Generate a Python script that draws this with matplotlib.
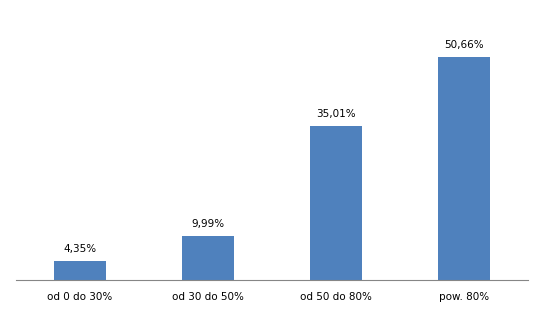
import matplotlib
matplotlib.use("Agg")
import matplotlib.pyplot as plt

categories = ["od 0 do 30%", "od 30 do 50%", "od 50 do 80%", "pow. 80%"]
values = [4.35, 9.99, 35.01, 50.66]
value_labels = ["4,35%", "9,99%", "35,01%", "50,66%"]

fig = plt.figure(figsize=(5.45, 3.15), dpi=100)
ax = fig.add_axes([16 / 545, 35 / 315, 512 / 545, 264 / 315])

x = range(len(categories))
bars = ax.bar(x, values, width=0.4, color="#4F81BD")

for b, lab in zip(bars, value_labels):
    ax.annotate(lab, (b.get_x() + b.get_width() / 2, b.get_height()),
                xytext=(0, 5), textcoords="offset points",
                ha="center", va="bottom", fontsize=7.5, color="#000000")

ax.set_xlim(-0.5, len(categories) - 0.5)
ax.set_ylim(0, 60)
ax.set_xticks(list(x))
ax.set_xticklabels(categories, fontsize=7.5)
ax.tick_params(axis="x", length=0, pad=9)
ax.set_yticks([])
for s in ["top", "right", "left"]:
    ax.spines[s].set_visible(False)
ax.spines["bottom"].set_color("#868686")
ax.spines["bottom"].set_linewidth(0.8)

fig.savefig("out.png", dpi=100)
